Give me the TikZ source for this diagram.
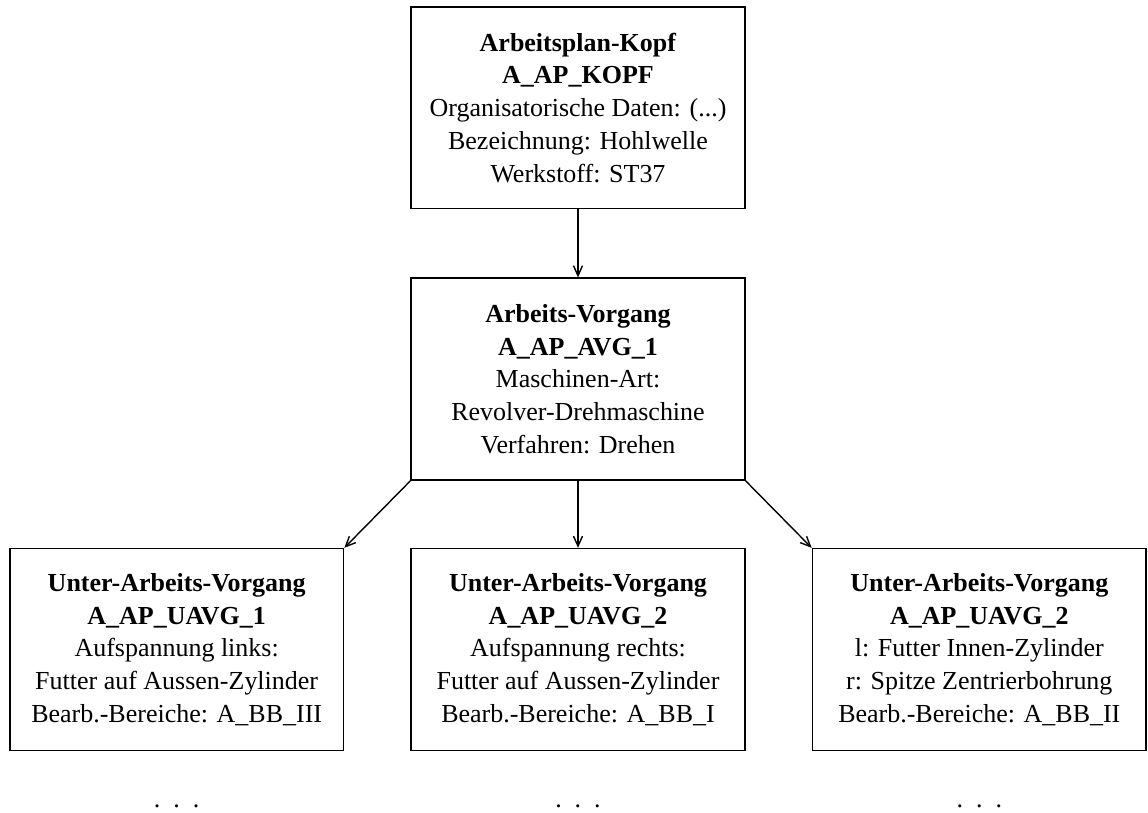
\documentclass[tikz,border=0pt]{standalone}
\usepackage{fontspec}
\setmainfont{Liberation Serif}
\usetikzlibrary{arrows.meta, positioning, calc}
\tikzset{
    box/.style={draw, line width=0.8pt, align=center, minimum width=167pt, minimum height=101pt, inner sep=0pt, font=\fontsize{13}{16.4}\selectfont},
    arrow/.style={-{Straight Barb[length=5pt, width=4.5pt]}, line width=0.7pt},
    dots/.style={anchor=base, inner sep=1pt, font=\fontsize{13}{14}\selectfont}
}

\begin{document}
\begin{tikzpicture}[node distance=34pt]
        \node [box] (kopf) {\textbf{Arbeitsplan-Kopf}\\ \textbf{A\_AP\_KOPF}\\ Organisatorische Daten: (...)\\ Bezeichnung: Hohlwelle\\ Werkstoff: ST37};
        \node [box, below=of kopf] (avg) {\textbf{Arbeits-Vorgang}\\ \textbf{A\_AP\_AVG\_1}\\ Maschinen-Art:\\ Revolver-Drehmaschine\\ Verfahren: Drehen};
        \node [box, below=33.5pt of avg] (uavgm) {\textbf{Unter-Arbeits-Vorgang}\\ \textbf{A\_AP\_UAVG\_2}\\ Aufspannung rechts:\\ Futter auf Aussen-Zylinder\\ Bearb.-Bereiche: A\_BB\_I};
        \node [box, left=33pt of uavgm] (uavgl) {\textbf{Unter-Arbeits-Vorgang}\\ \textbf{A\_AP\_UAVG\_1}\\ Aufspannung links:\\ Futter auf Aussen-Zylinder\\ Bearb.-Bereiche: A\_BB\_III};
        \node [box, right=33pt of uavgm] (uavgr) {\textbf{Unter-Arbeits-Vorgang}\\ \textbf{A\_AP\_UAVG\_2}\\ l: Futter Innen-Zylinder\\ r: Spitze Zentrierbohrung\\ Bearb.-Bereiche: A\_BB\_II};
        % Fortsetzung
        \node [dots] (dotsl) at ([yshift=-28pt]uavgl.south) {.\enspace.\enspace.};
        \node [dots] (dotsm) at ([yshift=-28pt]uavgm.south) {.\enspace.\enspace.};
        \node [dots] (dotsr) at ([yshift=-28pt]uavgr.south) {.\enspace.\enspace.};
        \draw [arrow] (kopf) -- (avg);
        \draw [arrow] (avg.south west) -- (uavgl.north east);
        \draw [arrow] (avg) -- (uavgm);
        \draw [arrow] (avg.south east) -- (uavgr.north west);
        \pgfresetboundingbox
        \path [use as bounding box] ($(uavgl.west |- kopf.north)+(-4.5pt,3pt)$) rectangle ($(uavgr.east |- kopf.north)+(0.5pt,-403.6pt)$);
    \end{tikzpicture}
\end{document}
